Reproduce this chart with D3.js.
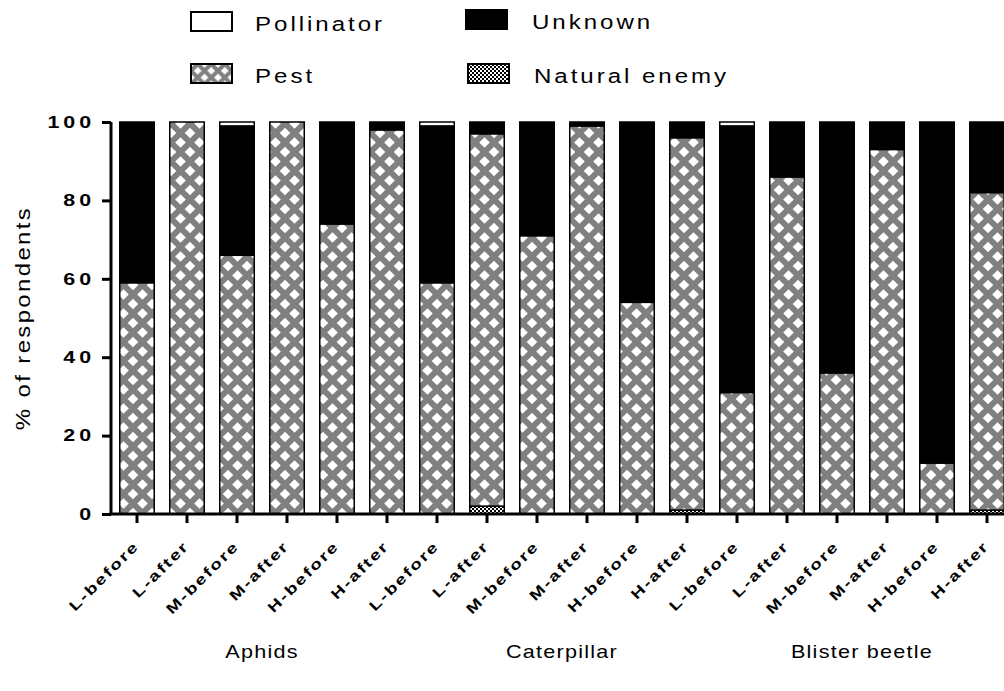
<!DOCTYPE html>
<html>
<head>
<meta charset="utf-8">
<script src="https://cdn.jsdelivr.net/npm/d3@7"></script>
<style>
  body { margin: 0; background: #fff; }
  text { font-family: "Liberation Sans", Arial, sans-serif; fill: #000; }
</style>
</head>
<body>
<div id="chart"></div>
<script>
// bar categories, 6 per pest group
const categories = ["L-before", "L-after", "M-before", "M-after", "H-before", "H-after",
                    "L-before", "L-after", "M-before", "M-after", "H-before", "H-after",
                    "L-before", "L-after", "M-before", "M-after", "H-before", "H-after"];
const groups = ["Aphids", "Caterpillar", "Blister beetle"];

// % of respondents, stacked bottom to top
const naturalEnemy = [0, 0, 0, 0, 0, 0,   0, 2, 0, 0, 0, 1,    0, 0, 0, 0, 0, 1];
const pest         = [59, 100, 66, 100, 74, 98,   59, 95, 71, 99, 54, 95,   31, 86, 36, 93, 13, 81];
const unknown      = [41, 0, 33, 0, 26, 2,   40, 3, 29, 1, 46, 4,   68, 14, 64, 7, 87, 18];
const pollinator   = [0, 0, 1, 0, 0, 0,   1, 0, 0, 0, 0, 0,   1, 0, 0, 0, 0, 0];

const yTicks = [0, 20, 40, 60, 80, 100];
const keys = ["naturalEnemy", "pest", "unknown", "pollinator"];

const width = 1004, height = 691;
const SX = 1.3; // glyphs in the original are drawn wide

const svg = d3.select('#chart').append('svg')
    .attr('width', width)
    .attr('height', height);

// patterns
const defs = svg.append('defs');
function diamondPattern(id, p, r) {
    const pat = defs.append('pattern')
        .attr('id', id)
        .attr('patternUnits', 'userSpaceOnUse')
        .attr('width', p).attr('height', p);
    pat.append('rect').attr('width', p).attr('height', p).attr('fill', '#808080');
    [[0, 0], [p, 0], [0, p], [p, p], [p / 2, p / 2]].forEach(c => {
        pat.append('path')
            .attr('d', `M${c[0]},${c[1] - r}L${c[0] + r},${c[1]}L${c[0]},${c[1] + r}L${c[0] - r},${c[1]}Z`)
            .attr('fill', '#fff');
    });
}
diamondPattern('pestPat', 19, 5.3);
diamondPattern('pestPatSmall', 13.5, 3.9);

const chk = defs.append('pattern')
    .attr('id', 'checkPat')
    .attr('patternUnits', 'userSpaceOnUse')
    .attr('width', 4).attr('height', 4);
chk.append('rect').attr('width', 4).attr('height', 4).attr('fill', '#fff');
chk.append('rect').attr('width', 2).attr('height', 2).attr('fill', '#000');
chk.append('rect').attr('x', 2).attr('y', 2).attr('width', 2).attr('height', 2).attr('fill', '#000');

const fills = {
    naturalEnemy: 'url(#checkPat)',
    pest: 'url(#pestPat)',
    unknown: '#000',
    pollinator: '#fff'
};

// scales
const x = d3.scaleBand()
    .domain(d3.range(categories.length))
    .range([112, 1012])
    .paddingInner(0.31)
    .paddingOuter(0.155);
const y = d3.scaleLinear()
    .domain([0, 100])
    .range([514, 122]);

const table = categories.map((c, i) => ({
    i: i,
    naturalEnemy: naturalEnemy[i],
    pest: pest[i],
    unknown: unknown[i],
    pollinator: pollinator[i]
}));
const series = d3.stack().keys(keys)(table);

// bars
svg.append('g').selectAll('g')
    .data(series)
    .join('g')
    .attr('fill', d => fills[d.key])
    .selectAll('rect')
    .data(d => d.filter(s => s[1] - s[0] > 0))
    .join('rect')
    .attr('x', d => x(d.data.i))
    .attr('y', d => y(d[1]))
    .attr('width', x.bandwidth())
    .attr('height', d => y(d[0]) - y(d[1]))
    .attr('stroke', '#000')
    .attr('stroke-width', 1.5);

// y axis
const yAxis = svg.append('g')
    .attr('transform', 'translate(111,0)')
    .call(d3.axisLeft(y).tickValues(yTicks).tickSize(9).tickPadding(10))
yAxis.select('.domain').attr('stroke-width', 3).attr('d', 'M0,' + y(100) + 'V' + y(0));
yAxis.selectAll('.tick line').attr('stroke-width', 3);
yAxis.selectAll('.tick text')
    .attr('font-size', 16.5)
    .attr('font-weight', 'bold')
    .attr('letter-spacing', 3)
    .attr('font-family', '"Liberation Sans", Arial, sans-serif')
    .attr('x', -16 / SX)
    .attr('transform', `scale(${SX},1)`);

// x axis
const xAxis = svg.append('g')
    .attr('transform', 'translate(0,514)')
    .call(d3.axisBottom(x).tickSize(9).tickFormat(''));
xAxis.select('.domain').attr('stroke-width', 3).attr('d', 'M109.5,0H' + width);
xAxis.selectAll('.tick line').attr('stroke-width', 3);

svg.append('g').selectAll('text')
    .data(categories)
    .join('text')
    .attr('transform', (d, i) => `translate(${x(i) + x.bandwidth() / 2 + 3},547) rotate(-45) scale(${SX},1)`)
    .attr('text-anchor', 'end')
    .attr('font-size', 14.5)
    .attr('font-weight', 'bold')
    .attr('letter-spacing', 1.6)
    .text(d => d);

// group labels
svg.append('g').selectAll('text')
    .data(groups)
    .join('text')
    .attr('transform', (d, i) => {
        const cx = (x(i * 6) + x(i * 6 + 5) + x.bandwidth()) / 2;
        return `translate(${cx},658) scale(${SX * 0.95},1)`;
    })
    .attr('text-anchor', 'middle')
    .attr('font-size', 17.5)
    .attr('letter-spacing', 1.0)
    .text(d => d);

// y title
svg.append('text')
    .attr('transform', `translate(30,318) rotate(-90) scale(${SX * 0.92},1)`)
    .attr('text-anchor', 'middle')
    .attr('font-size', 20)
    .attr('letter-spacing', 2.0)
    .text('% of respondents');

// legend
const legendItems = [
    {label: 'Pollinator', key: 'pollinator', x: 191, y: 12},
    {label: 'Unknown', key: 'unknown', x: 466, y: 10},
    {label: 'Pest', key: 'pest', x: 191, y: 64},
    {label: 'Natural enemy', key: 'naturalEnemy', x: 468, y: 64}
];
const legend = svg.append('g').selectAll('g')
    .data(legendItems)
    .join('g')
    .attr('transform', d => `translate(${d.x},${d.y})`);
legend.append('rect')
    .attr('width', 41).attr('height', 19)
    .attr('fill', d => d.key === 'pest' ? 'url(#pestPatSmall)' : fills[d.key])
    .attr('stroke', '#000')
    .attr('stroke-width', 2);
legend.append('text')
    .attr('transform', d => `translate(${d.key === 'pest' || d.key === 'pollinator' ? 64 : 66},19) scale(${SX * 0.95},1)`)
    .attr('font-size', 19.5)
    .attr('letter-spacing', 2.4)
    .text(d => d.label);
</script>
</body>
</html>
